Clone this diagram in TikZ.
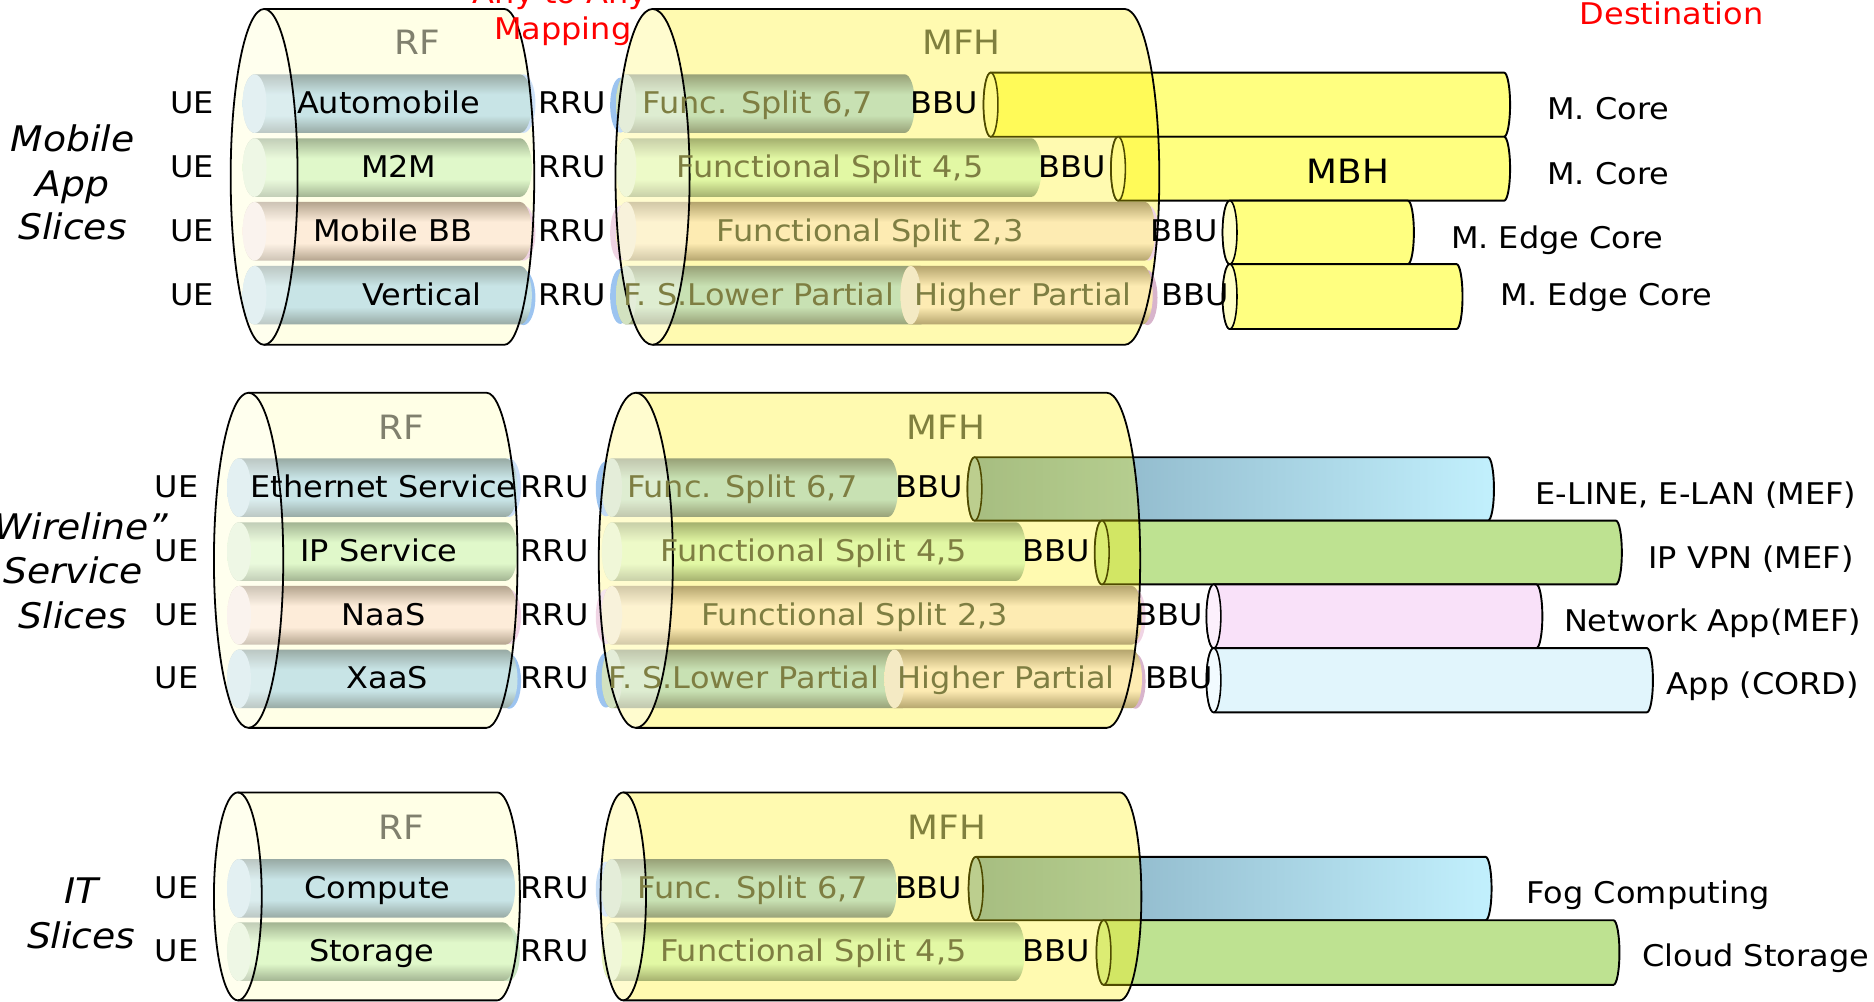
\documentclass[tikz,border=0pt]{standalone}
\usepackage{fontspec}
\setmainfont{DejaVu Sans}[FakeStretch=1.07]
\newcommand\fsA{\fontsize{25}{30}\selectfont}
\newcommand\fsB{\fontsize{28}{33}\selectfont}
\newcommand\fsC{\fontsize{29.5}{35}\selectfont\itshape}
\definecolor{rfbg}{HTML}{FFFFE6}
\definecolor{rbE}{HTML}{98AAA4}\definecolor{rbM}{HTML}{C8E4E6}\definecolor{rbF}{HTML}{D4E8EC}
\definecolor{rgE}{HTML}{A2B492}\definecolor{rgM}{HTML}{E0F8CA}\definecolor{rgF}{HTML}{E6F3D8}
\definecolor{rpE}{HTML}{B4A48E}\definecolor{rpM}{HTML}{FDECD9}\definecolor{rpF}{HTML}{F8EEE6}
\definecolor{mbE}{HTML}{98A177}\definecolor{mbM}{HTML}{C8E1B3}\definecolor{mbF}{HTML}{D2E2C0}
\definecolor{mgE}{HTML}{A4B06E}\definecolor{mgM}{HTML}{E2F8A4}\definecolor{mgF}{HTML}{E6F2BE}
\definecolor{mtE}{HTML}{B5A56E}\definecolor{mtM}{HTML}{FDEBB2}\definecolor{mtF}{HTML}{F4EAC4}
\definecolor{capBlue}{HTML}{9CC4F0}\definecolor{capPink}{HTML}{F0D4E4}
\definecolor{capPurple}{HTML}{D8B4CC}\definecolor{capGreen}{HTML}{C8E4C0}
\definecolor{dyel}{HTML}{FFFF80}\definecolor{dyelF}{HTML}{FFFFC8}
\definecolor{dblL}{HTML}{7FA6BA}\definecolor{dblR}{HTML}{C2F0FD}\definecolor{dblF}{HTML}{9EBFCF}
\definecolor{dgr}{HTML}{BEE291}\definecolor{dgrF}{HTML}{CDEAA8}
\definecolor{dpk}{HTML}{F9E1F9}\definecolor{dpkF}{HTML}{FCF0FC}
\definecolor{dcy}{HTML}{E1F5FC}\definecolor{dcyF}{HTML}{F2FBFF}
\definecolor{oliveT}{HTML}{7E7E42}\definecolor{rfT}{HTML}{80806E}\definecolor{mfhT}{HTML}{80803E}
\colorlet{tubeE}{gray}\colorlet{tubeM}{white}
\pgfdeclareverticalshading[tubeE,tubeM]{tubeshade}{100bp}{color(0bp)=(tubeE); color(25bp)=(tubeE); color(40bp)=(tubeM); color(58bp)=(tubeM); color(75bp)=(tubeE); color(100bp)=(tubeE)}
% inner tube: x1 x2 yc hh rx edge mid face
\newcommand\tube[8]{%
  \colorlet{tubeE}{#6}\colorlet{tubeM}{#7}%
  \path[shading=tubeshade] (#1,{-(#3-#4)}) -- (#2,{-(#3-#4)}) arc[start angle=90,end angle=-90,x radius=#5,y radius=#4] -- (#1,{-(#3+#4)}) arc[start angle=270,end angle=90,x radius=#5,y radius=#4] -- cycle;
  \path[fill=#8] (#1,-#3) ellipse[x radius=#5,y radius=#4];}
% cap: x yc rx hh color
\newcommand\tcap[5]{\path[fill=#5] (#1,-#2) ellipse[x radius=#3,y radius=#4];}
% destination tube: x1 x2 ytop ybot bodystyle facecolor
\newcommand\dtube[6]{%
  \path[#5, draw=black, line width=1.6pt] (#1,-#3) -- (#2,-#3) arc[start angle=90,end angle=-90,x radius=5,y radius={(#4-#3)/2}] -- (#1,-#4) arc[start angle=270,end angle=90,x radius=6,y radius={(#4-#3)/2}] -- cycle;
  \path[fill=#6, draw=black, line width=1.3pt] (#1,{-(#3+#4)/2}) ellipse[x radius=6,y radius={(#4-#3)/2}];}
% big cylinder: xl rl xr rr top bot style
\newcommand\cylfill[7]{\path[#7] (#1,-#5) -- (#3,-#5) arc[start angle=90,end angle=-90,x radius=#4,y radius={(#6-#5)/2}] -- (#1,-#6) arc[start angle=270,end angle=90,x radius=#2,y radius={(#6-#5)/2}] -- cycle;}
\newcommand\cylface[7]{\path[#7] (#1,{-(#5+#6)/2}) ellipse[x radius=#2,y radius={(#6-#5)/2}];}
\newcommand\cylline[6]{\draw[line width=1.5pt] (#1,-#5) -- (#3,-#5) arc[start angle=90,end angle=-90,x radius=#4,y radius={(#6-#5)/2}] -- (#1,-#6);
  \draw[line width=1.5pt] (#1,{-(#5+#6)/2}) ellipse[x radius=#2,y radius={(#6-#5)/2}];}
\begin{document}
\begin{tikzpicture}[x=1pt,y=1pt,
  lbl/.style={font=\fsA, anchor=base, inner sep=0pt, text=black},
  mlbl/.style={lbl, text=oliveT},
  big/.style={font=\fsB, anchor=base, inner sep=0pt},
  slice/.style={font=\fsC, anchor=base, inner sep=0pt},
  red/.style={lbl, text=red}]
\useasboundingbox (0,0) rectangle (1568,-838);
\clip (0,0) rectangle (1568,-838);
\fill[white] (0,0) rectangle (1568,-838);
% ---------------- destination tubes ----------------
\dtube{829}{1258.5}{60.8}{114.4}{fill=dyel}{dyelF}
\dtube{935.6}{1258.5}{114.4}{167.9}{fill=dyel}{dyelF}
\dtube{1029}{1178}{167.9}{221}{fill=dyel}{dyelF}
\dtube{1029}{1218.7}{221}{275.3}{fill=dyel}{dyelF}
\dtube{815.5}{1245}{382.6}{435.6}{left color=dblL,right color=dblR}{dblF}
\dtube{922}{1352}{435.6}{489}{fill=dgr}{dgrF}
\dtube{1015.5}{1285.5}{489}{542.3}{fill=dpk}{dpkF}
\dtube{1015.5}{1378}{542.3}{596}{fill=dcy}{dcyF}
\dtube{816.5}{1243}{717}{770}{left color=dblL,right color=dblR}{dblF}
\dtube{923.5}{1350}{770}{824}{fill=dgr}{dgrF}
% ---------------- cylinder bodies ----------------
\cylfill{221}{28}{422}{25}{7.5}{288.5}{fill=rfbg}
\cylfill{208}{29}{407}{26}{328.6}{609}{fill=rfbg}
\cylfill{199}{20}{416}{19}{663}{837}{fill=rfbg}
\cylfill{546}{31}{941}{29}{7.5}{288.5}{fill=yellow,fill opacity=0.31}
\cylfill{532}{31}{926}{28}{328.6}{609}{fill=yellow,fill opacity=0.31}
\cylfill{521.5}{19}{937}{18}{663}{837}{fill=yellow,fill opacity=0.31}
% ---------------- section 1 inner tubes ----------------
\tcap{438}{86.7}{10}{24.5}{capBlue!50!white}
\tcap{438}{195}{10}{23}{capPink}
\tcap{438}{249}{10}{23}{capBlue}
\tube{213}{435}{86.7}{24.5}{10}{rbE}{rbM}{rbF}
\tube{213}{435}{140.2}{24.5}{10}{rgE}{rgM}{rgF}
\tube{213}{435}{193.5}{24.5}{10}{rpE}{rpM}{rpF}
\tube{213}{435}{247}{24.5}{10}{rbE}{rbM}{rbF}
\tcap{519}{88}{8.5}{23}{capBlue}
\tcap{519}{195}{8.5}{23}{capPink}
\tcap{519}{248}{8.5}{23}{capBlue}
\tcap{961}{195}{8.5}{23}{capPink}
\tcap{960}{249}{8.5}{23}{capPurple}
\tube{524}{757}{86.7}{24.5}{8.5}{mbE}{mbM}{mbF}
\tube{524}{863}{140.2}{24.5}{8.5}{mgE}{mgM}{mgF}
\tube{524}{958}{193.5}{24.5}{8.5}{mtE}{mtM}{mtF}
\tube{524}{770}{247}{24.5}{8.5}{mbE}{mbM}{mbF}
\tube{762}{956}{247}{24.5}{8.5}{mtE}{mtM}{mtF}
% ---------------- section 2 inner tubes ----------------
\tcap{426}{408}{10}{24.5}{capBlue!50!white}
\tcap{426}{516}{10}{23}{capPink}
\tcap{426}{570}{10}{23}{capBlue}
\tube{200}{423}{408}{24.5}{10}{rbE}{rbM}{rbF}
\tube{200}{423}{461.5}{24.5}{10}{rgE}{rgM}{rgF}
\tube{200}{423}{514.8}{24.5}{10}{rpE}{rpM}{rpF}
\tube{200}{423}{568}{24.5}{10}{rbE}{rbM}{rbF}
\tcap{507}{409}{8.5}{23}{capBlue}
\tcap{507}{516}{8.5}{23}{capPink}
\tcap{507}{569}{8.5}{23}{capBlue}
\tcap{950}{516}{8.5}{23}{capPink}
\tcap{950}{570}{8.5}{23}{capPurple}
\tube{512}{743}{408}{24.5}{8.5}{mbE}{mbM}{mbF}
\tube{512}{850}{461.5}{24.5}{8.5}{mgE}{mgM}{mgF}
\tube{512}{947}{514.8}{24.5}{8.5}{mtE}{mtM}{mtF}
\tube{512}{755}{568}{24.5}{8.5}{mbE}{mbM}{mbF}
\tube{748.5}{947}{568}{24.5}{8.5}{mtE}{mtM}{mtF}
% ---------------- section 3 inner tubes ----------------
\tcap{425}{798}{10}{23}{capGreen}
\tube{200}{421}{743.3}{24.5}{10}{rbE}{rbM}{rbF}
\tube{200}{421}{796.3}{24.5}{10}{rgE}{rgM}{rgF}
\tcap{507}{744}{8.5}{23}{capBlue!60!white}
\tube{512}{742}{743.3}{24.5}{8.5}{mbE}{mbM}{mbF}
\tube{512}{849}{796.3}{24.5}{8.5}{mgE}{mgM}{mgF}
% ---------------- face overlays ----------------
\cylface{221}{28}{422}{25}{7.5}{288.5}{fill=white,fill opacity=0.35}
\cylface{208}{29}{407}{26}{328.6}{609}{fill=white,fill opacity=0.35}
\cylface{199}{20}{416}{19}{663}{837}{fill=white,fill opacity=0.35}
\cylface{546}{31}{941}{29}{7.5}{288.5}{fill=white,fill opacity=0.4}
\cylface{532}{31}{926}{28}{328.6}{609}{fill=white,fill opacity=0.4}
\cylface{521.5}{19}{937}{18}{663}{837}{fill=white,fill opacity=0.4}
% ---------------- outlines ----------------
\cylline{221}{28}{422}{25}{7.5}{288.5}
\cylline{208}{29}{407}{26}{328.6}{609}
\cylline{199}{20}{416}{19}{663}{837}
\cylline{546}{31}{941}{29}{7.5}{288.5}
\cylline{532}{31}{926}{28}{328.6}{609}
\cylline{521.5}{19}{937}{18}{663}{837}
% ---------------- texts ----------------
\node[red] (any) at (468.7,-3) {Any to Any};
\node[red] (map) at (470.9,-32.9) {Mapping};
\node[red] (dest) at (1398.7,-20.9) {Destination};
% section 1
\node[slice] (s1a) at (60.8,-127) {Mobile};
\node[slice] (s1b) at (60.6,-164.6) {App};
\node[slice] (s1c) at (60.7,-200.8) {Slices};
\node[big, text=rfT] (rf1) at (349,-46) {RF};
\node[big, text=mfhT] (mfh1) at (804.6,-46) {MFH};
\node[lbl] (ue11) at (160.5,-94.9) {UE};
\node[lbl] (ue12) at (160.5,-148.4) {UE};
\node[lbl] (ue13) at (160.5,-201.7) {UE};
\node[lbl] (ue14) at (160.5,-255.2) {UE};
\node[lbl] (rru11) at (478.6,-94.9) {RRU};
\node[lbl] (rru12) at (478.6,-148.4) {RRU};
\node[lbl] (rru13) at (478.6,-201.7) {RRU};
\node[lbl] (rru14) at (478.6,-255.2) {RRU};
\node[lbl] (a11) at (325,-94.9) {Automobile};
\node[lbl] (a12) at (333.7,-148.4) {M2M};
\node[lbl] (a13) at (328.6,-201.7) {Mobile BB};
\node[lbl] (a14) at (353,-255.2) {Vertical};
\node[mlbl] (f11) at (634,-94.9) {Func. Split 6,7};
\node[mlbl] (f12) at (694.5,-148.4) {Functional Split 4,5};
\node[mlbl] (f13) at (728,-201.7) {Functional Split 2,3};
\node[mlbl] (f14) at (635,-255.2) {F. S.Lower Partial};
\node[mlbl] (f15) at (856,-255.2) {Higher Partial};
\node[lbl] (b11) at (790,-94.9) {BBU};
\node[lbl] (b12) at (897,-148.4) {BBU};
\node[lbl] (b13) at (991,-201.7) {BBU};
\node[lbl] (b14) at (1000,-255.2) {BBU};
\node[big] (mbh) at (1128,-153.4) {MBH};
\node[lbl] (d11) at (1345.6,-100.4) {M. Core};
\node[lbl] (d12) at (1345.6,-154) {M. Core};
\node[lbl] (d13) at (1303,-207.8) {M. Edge Core};
\node[lbl] (d14) at (1344,-256) {M. Edge Core};
% section 2
\node[slice] (s2a) at (68,-451.8) {Wireline”};
\node[slice] (s2b) at (61,-488) {Service};
\node[slice] (s2c) at (61,-525.7) {Slices};
\node[big, text=rfT] (rf2) at (336,-368) {RF};
\node[big, text=mfhT] (mfh2) at (791.5,-367.6) {MFH};
\node[lbl] (ue21) at (147.6,-416.2) {UE};
\node[lbl] (ue22) at (147.6,-469.7) {UE};
\node[lbl] (ue23) at (147.6,-523) {UE};
\node[lbl] (ue24) at (147.6,-576.2) {UE};
\node[lbl] (rru21) at (464,-416.2) {RRU};
\node[lbl] (rru22) at (464,-469.7) {RRU};
\node[lbl] (rru23) at (464,-523) {RRU};
\node[lbl] (rru24) at (464,-576.2) {RRU};
\node[lbl] (a21) at (321,-416.2) {Ethernet Service};
\node[lbl] (a22) at (317,-469.7) {IP Service};
\node[lbl] (a23) at (321,-523) {NaaS};
\node[lbl] (a24) at (324,-576.2) {XaaS};
\node[mlbl] (f21) at (621,-416.2) {Func. Split 6,7};
\node[mlbl] (f22) at (681,-469.7) {Functional Split 4,5};
\node[mlbl] (f23) at (715,-523) {Functional Split 2,3};
\node[mlbl] (f24) at (622.6,-576.2) {F. S.Lower Partial};
\node[mlbl] (f25) at (842,-576.2) {Higher Partial};
\node[lbl] (b21) at (777.6,-416.2) {BBU};
\node[lbl] (b22) at (884,-469.7) {BBU};
\node[lbl] (b23) at (978,-523) {BBU};
\node[lbl] (b24) at (987,-576.2) {BBU};
\node[lbl] (d21) at (1419,-421.7) {E-LINE, E-LAN (MEF)};
\node[lbl] (d22) at (1465,-475.5) {IP VPN (MEF)};
\node[lbl] (d23) at (1433,-528.5) {Network App(MEF)};
\node[lbl] (d24) at (1475,-581.5) {App (CORD)};
% section 3
\node[slice] (s3a) at (68.4,-755.8) {IT};
\node[slice] (s3b) at (68,-793.5) {Slices};
\node[big, text=rfT] (rf3) at (336,-702.3) {RF};
\node[big, text=mfhT] (mfh3) at (792.5,-702.3) {MFH};
\node[lbl] (ue31) at (147.6,-751.5) {UE};
\node[lbl] (ue32) at (147.6,-804.5) {UE};
\node[lbl] (rru31) at (464,-751.5) {RRU};
\node[lbl] (rru32) at (464,-804.5) {RRU};
\node[lbl] (a31) at (315.7,-751.5) {Compute};
\node[lbl] (a32) at (311,-804.5) {Storage};
\node[mlbl] (f31) at (630,-751.5) {Func. Split 6,7};
\node[mlbl] (f32) at (680.6,-804.5) {Functional Split 4,5};
\node[lbl] (b31) at (777,-751.5) {BBU};
\node[lbl] (b32) at (884,-804.5) {BBU};
\node[lbl] (d31) at (1379,-755.8) {Fog Computing};
\node[lbl] (d32) at (1469,-808.8) {Cloud Storage};
\end{tikzpicture}
\end{document}
